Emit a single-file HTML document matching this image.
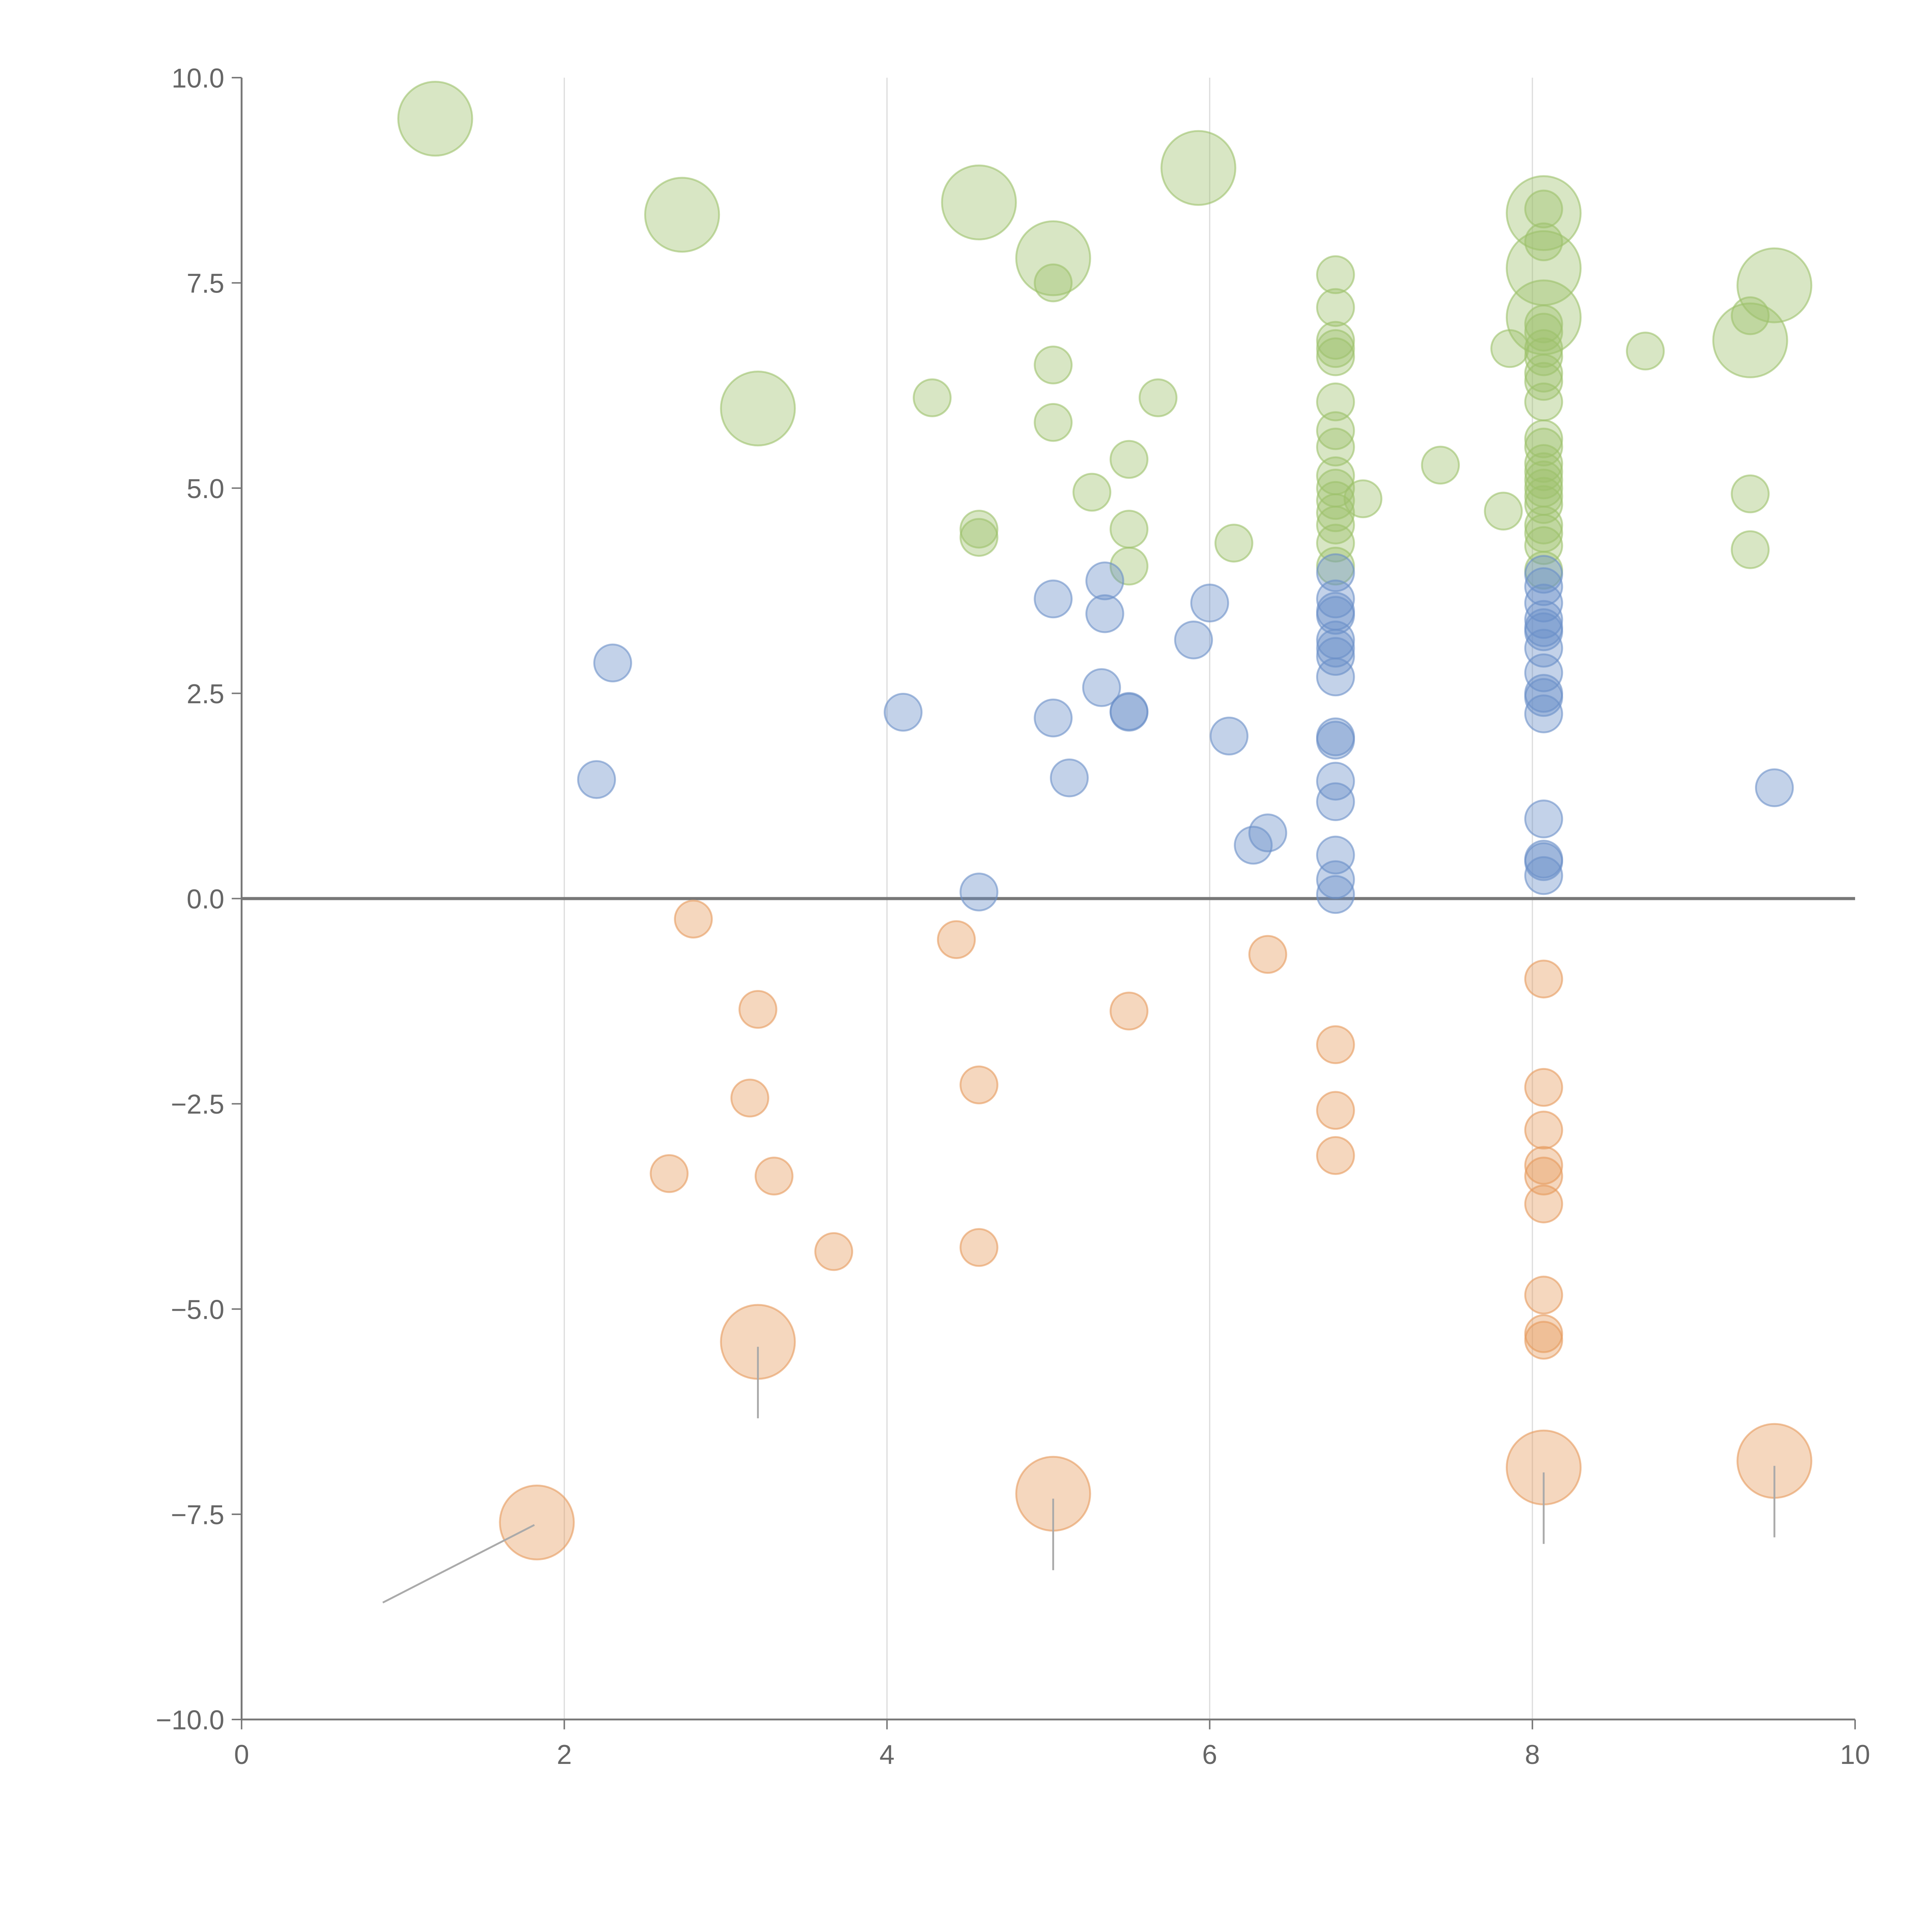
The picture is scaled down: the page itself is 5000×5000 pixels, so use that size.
<!DOCTYPE html>
<html><head><meta charset="utf-8"><style>
html,body{margin:0;padding:0;background:#fff;}
svg{display:block;}
text{font-family:"Liberation Sans",sans-serif;fill:#666;}
</style></head><body>
<svg id="chart" width="5000" height="5000" viewBox="0 0 1567.4 1567.4" xmlns="http://www.w3.org/2000/svg">
<g id="grid"></g>
<g id="axes"></g>
<g id="marks"></g>
</svg>
<script>
const xTicks=[0,2,4,6,8,10];
const yTicks=[10,7.5,5,2.5,0,-2.5,-5,-7.5,-10];
const greenSmallX=[4.28,5.03,5.03,5.03,5.27,5.5,5.5,5.5,5.68,4.57,4.57,6.15,6.95,7.43,7.82,7.86,8.7,9.35,9.35,9.35];
const greenSmallY=[6.1,7.5,6.5,5.8,4.95,5.35,4.5,4.05,6.1,4.5,4.4,4.33,4.87,5.28,4.72,6.7,6.67,4.93,4.25,7.1];
const greenCol1Y=[7.6,7.2,6.8,6.7,6.6,6.05,5.7,5.5,5.15,5.0,4.85,4.7,4.55,4.33,4.05];
const greenCol2Y=[8.4,8.0,7.0,6.9,6.7,6.6,6.4,6.3,6.05,5.6,5.5,5.3,5.2,5.1,5.0,4.9,4.8,4.55,4.45,4.3,4.0];
const greenLargeX=[1.2,2.73,3.2,4.57,5.03,5.93,8.07,8.07,8.07,9.5,9.35];
const greenLargeY=[9.5,8.33,5.97,8.48,7.8,8.9,8.35,7.68,7.08,7.47,6.8];
const blueX=[2.2,2.3,4.1,4.57,5.03,5.03,5.13,5.33,5.35,5.35,5.5,5.5,5.9,6.0,6.12,6.27,6.36,9.5];
const blueY=[1.45,2.87,2.27,0.08,3.65,2.2,1.47,2.57,3.87,3.47,2.27,2.28,3.15,3.6,1.98,0.65,0.8,1.35];
const blueCol1Y=[3.97,3.65,3.5,3.45,3.15,3.05,2.95,2.7,1.97,1.93,1.43,1.18,0.53,0.23,0.05];
const blueCol2Y=[3.95,3.8,3.6,3.4,3.3,3.25,3.05,2.75,2.5,2.45,2.25,0.97,0.48,0.45,0.28];
const orangeX=[2.8,3.2,3.15,2.65,3.3,3.67,4.43,4.57,4.57,5.5,6.36];
const orangeY=[-0.25,-1.35,-2.43,-3.35,-3.38,-4.3,-0.5,-2.27,-4.25,-1.37,-0.68];
const orangeCol1Y=[-1.78,-2.58,-3.13];
const orangeCol2Y=[-0.98,-2.3,-2.82,-3.25,-3.38,-3.72,-4.83,-5.3,-5.38];
const orangeLargeX=[1.83,3.2,5.03,8.07,9.5];
const orangeLargeY=[-7.6,-5.4,-7.25,-6.93,-6.85];
const col1X=6.78, col2X=8.07;

const NS="http://www.w3.org/2000/svg";
const X0=196,X1=1505,Y0=1395,Y1=63;
const sx=v=>X0+(v-0)/(10-0)*(X1-X0);
const sy=v=>Y0-(v+10)/20*(Y0-Y1);
function mk(tag,attrs,parent){const e=document.createElementNS(NS,tag);for(const k in attrs)e.setAttribute(k,attrs[k]);parent.appendChild(e);return e;}
const grid=document.getElementById('grid'),axes=document.getElementById('axes'),marks=document.getElementById('marks');
xTicks.forEach(t=>{
 if(t>0&&t<10){const l=mk('line',{x1:sx(t),x2:sx(t),y1:Y1,y2:Y0,stroke:'#ddd','stroke-width':1},grid);
 
 }
 const tk=mk('line',{x1:sx(t),x2:sx(t),y1:Y0,y2:Y0+8,stroke:'#777','stroke-width':1.2},axes);
 
 
 const tx=mk('text',{x:sx(t),y:Y0+36,'text-anchor':'middle','font-size':22},axes);tx.textContent=t;
 
 
});
yTicks.forEach(t=>{
 const tk=mk('line',{x1:X0-8,x2:X0,y1:sy(t),y2:sy(t),stroke:'#777','stroke-width':1.2},axes);
 
 
 const tx=mk('text',{x:X0-14,y:sy(t)+8,'text-anchor':'end','font-size':22},axes);tx.textContent=t.toFixed(1).replace('-','\u2212');
 
 
});
let a=mk('line',{x1:X0,x2:X0,y1:Y1,y2:Y0,stroke:'#777','stroke-width':1.5},axes);


a=mk('line',{x1:X0,x2:X1,y1:Y0,y2:Y0,stroke:'#777','stroke-width':1.5},axes);



const colors={green:'#9dc16b',blue:'#6a8fc8',orange:'#e69a5c'};
function dot(x,y,r,c,name){
 const e=mk('circle',{cx:sx(x),cy:sy(y),r:r,fill:c,'fill-opacity':0.4,stroke:c,'stroke-opacity':0.6,'stroke-width':1.5},marks);
 
 
}
greenSmallX.forEach((x,i)=>dot(x,greenSmallY[i],15,colors.green,'green-point'));
greenCol1Y.forEach(y=>dot(col1X,y,15,colors.green,'green-point'));
greenCol2Y.forEach(y=>dot(col2X,y,15,colors.green,'green-point'));
greenLargeX.forEach((x,i)=>dot(x,greenLargeY[i],30,colors.green,'green-large-point'));
blueX.forEach((x,i)=>dot(x,blueY[i],15,colors.blue,'blue-point'));
blueCol1Y.forEach(y=>dot(col1X,y,15,colors.blue,'blue-point'));
blueCol2Y.forEach(y=>dot(col2X,y,15,colors.blue,'blue-point'));
orangeX.forEach((x,i)=>dot(x,orangeY[i],15,colors.orange,'orange-point'));
orangeCol1Y.forEach(y=>dot(col1X,y,15,colors.orange,'orange-point'));
orangeCol2Y.forEach(y=>dot(col2X,y,15,colors.orange,'orange-point'));
orangeLargeX.forEach((x,i)=>{
 dot(x,orangeLargeY[i],30,colors.orange,'orange-large-point');
 const first=i===0;
 const l=mk('line',{x1:sx(x)-(first?2:0),y1:sy(orangeLargeY[i])+(first?2:4),x2:first?sx(x)-125:sx(x),y2:sy(orangeLargeY[i])+(first?65:62),stroke:'#aaa','stroke-width':1.5},marks);
 
 
});
a=mk('line',{x1:X0,x2:X1,y1:sy(0),y2:sy(0),stroke:'#777','stroke-width':2.5},axes);


</script>
</body></html>
